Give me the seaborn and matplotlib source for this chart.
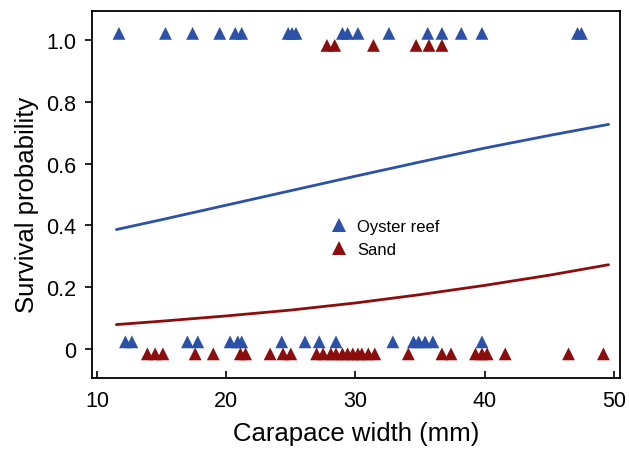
import numpy as np
import pandas as pd
import seaborn as sns
import matplotlib.pyplot as plt

# Carapace widths (mm)
oyster_alive = [11.7, 15.3, 17.4, 19.5, 20.7, 21.2, 24.8, 25.1, 25.4, 29.0, 29.4,
                30.2, 32.6, 35.6, 36.7, 38.2, 39.8, 47.2, 47.5]
oyster_dead = [12.2, 12.7, 17.0, 17.8, 20.3, 20.9, 21.2, 24.3, 26.1, 27.2, 28.5,
               32.9, 34.5, 34.9, 35.4, 36.0, 39.8]
sand_alive = [27.8, 28.4, 31.4, 34.7, 35.7, 36.7]
sand_dead = [13.9, 14.5, 15.1, 17.6, 19.0, 21.1, 21.5, 23.4, 24.4, 25.0, 27.0,
             27.5, 28.1, 28.5, 29.0, 29.4, 29.8, 30.2, 30.5, 31.0, 31.5, 34.1,
             36.7, 37.4, 39.3, 39.8, 40.2, 41.6, 46.5, 49.2]

# fitted survival curves, read at a few widths
curve_x = [11.5, 15, 20, 25, 30, 35, 40, 45, 49.6]
oyster_curve = [0.386, 0.418, 0.465, 0.512, 0.559, 0.605, 0.650, 0.691, 0.727]
sand_curve = [0.078, 0.089, 0.106, 0.125, 0.148, 0.175, 0.205, 0.238, 0.272]

habitats = ['Oyster reef', 'Sand']
colors = {'Oyster reef': '#2b51a8', 'Sand': '#8c0d0d'}

rows = []
for hab, alive, dead in [('Oyster reef', oyster_alive, oyster_dead),
                         ('Sand', sand_alive, sand_dead)]:
    rows += [(w, 1, hab) for w in alive]
    rows += [(w, 0, hab) for w in dead]
df = pd.DataFrame(rows, columns=['width', 'survived', 'habitat'])
# small vertical offset so the two habitats don't sit on top of each other
offset = {'Oyster reef': 0.022, 'Sand': -0.017}
df['y'] = df['survived'] + df['habitat'].map(offset)

curves = pd.DataFrame({'width': curve_x * 2,
                       'p': oyster_curve + sand_curve,
                       'habitat': ['Oyster reef'] * len(curve_x) + ['Sand'] * len(curve_x)})

sns.set_style('white')
plt.rcParams['font.family'] = ['Liberation Sans', 'DejaVu Sans']
plt.rcParams['text.color'] = 'black'
plt.rcParams['axes.labelcolor'] = 'black'

fig = plt.figure(figsize=(6.29, 4.56), dpi=100)
ax = fig.add_axes([0.146, 0.169, 0.840, 0.805])

sns.lineplot(data=curves, x='width', y='p', hue='habitat', hue_order=habitats,
             palette=colors, linewidth=2.0, legend=False, ax=ax)
sns.scatterplot(data=df, x='width', y='y', hue='habitat', hue_order=habitats,
                palette=colors, marker='^', s=85, linewidth=0, ax=ax)

ax.set_xlim(9.6, 50.5)
ax.set_ylim(-0.095, 1.095)
ax.set_xticks([10, 20, 30, 40, 50])
ax.set_yticks([0, 0.2, 0.4, 0.6, 0.8, 1.0])
ax.set_yticklabels(['0', '0.2', '0.4', '0.6', '0.8', '1.0'])
ax.tick_params(axis='x', bottom=True, direction='in', length=5, width=1.2, pad=9,
               labelsize=15.5, colors='black')
ax.tick_params(axis='y', left=True, direction='out', length=5, width=1.2, pad=6,
               labelsize=15.5, colors='black')
ax.set_xlabel('Carapace width (mm)', fontsize=18.5, labelpad=7)
ax.set_ylabel('Survival probability', fontsize=18.5)
ax.yaxis.set_label_coords(-0.10, 0.475)
for sp in ax.spines.values():
    sp.set_color('black')
    sp.set_linewidth(1.3)

leg = ax.legend(loc='center left', bbox_to_anchor=(0.436, 0.381), frameon=False,
                fontsize=12, handlelength=1.0, handletextpad=0.6, borderpad=0,
                labelspacing=0.45)
for h in leg.legend_handles:
    h.set_markersize(9.4)
    h.set_markeredgewidth(0)

fig.savefig('out.png', dpi=100)
